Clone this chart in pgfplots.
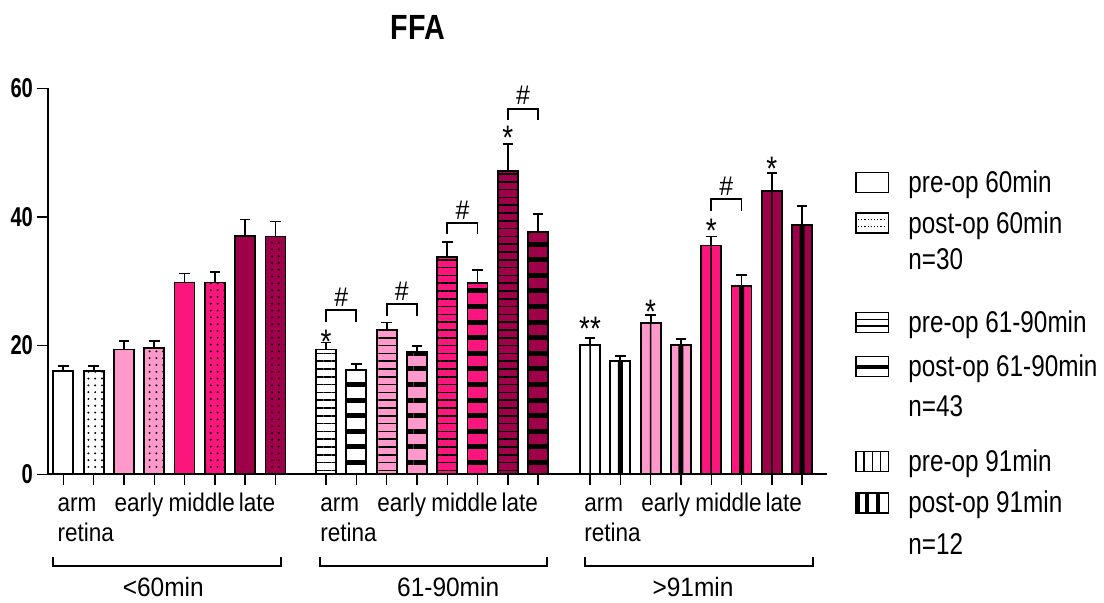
\documentclass[border=0pt]{standalone}
\usepackage{pgfplots}
\pgfplotsset{compat=1.18}
\usepackage{pgfplotstable}
\usetikzlibrary{patterns.meta}
\usepackage{fontspec}
\setmainfont{Liberation Sans}[FakeStretch=0.82]
\newfontfamily\tickfam{Liberation Sans}[FakeStretch=0.74]
\newfontfamily\xlfam{Liberation Sans}[FakeStretch=0.88]
\newfontfamily\grpfam{Liberation Sans}[FakeStretch=0.92]
\newfontfamily\lgdfam{Liberation Sans}[FakeStretch=0.81]
\definecolor{lpink}{RGB}{255,153,204}
\definecolor{hpink}{RGB}{250,22,125}
\definecolor{dmag}{RGB}{158,0,74}
\pgfplotsset{
  mybar/.style={ybar, bar width=0.66, bar shift=0pt, draw=black, line width=0.9pt},
  myerr/.style={error bars/.cd, y dir=plus, y explicit,
    error bar style={line width=0.9pt, black},
    error mark options={rotate=90, line width=0.9pt, mark size=2.65pt, black}},
}
% bars by colour (arm retina / early / middle / late), x = bar position
\pgfplotstableread{
x y e
0 16.0 0.85
1 16.1 0.70
8.67 19.4 1.10
9.67 16.2 1.00
17.38 20.1 1.10
18.38 17.6 0.80
}\armdata
\pgfplotstableread{
x y e
2 19.4 1.30
3 19.6 1.10
10.67 22.5 1.10
11.67 19.0 0.95
19.38 23.5 1.20
20.38 20.1 0.90
}\earlydata
\pgfplotstableread{
x y e
4 29.8 1.40
5 29.8 1.60
12.67 33.8 2.30
13.67 29.7 2.10
21.38 35.55 1.40
22.38 29.3 1.70
}\middledata
\pgfplotstableread{
x y e
6 37.1 2.50
7 36.95 2.35
14.67 47.2 4.10
15.67 37.7 2.70
23.38 44.06 2.74
24.38 38.7 3.00
}\latedata
% pattern overlays by group
\pgfplotstableread{
x y
1 16.1
3 19.6
5 29.8
7 36.95
}\postsixty
\pgfplotstableread{
x y
8.67 19.4
10.67 22.5
12.67 33.8
14.67 47.2
}\prenine
\pgfplotstableread{
x y
9.67 16.2
11.67 19.0
13.67 29.7
15.67 37.7
}\postnine
\pgfplotstableread{
x y
17.38 20.1
19.38 23.5
21.38 35.55
23.38 44.06
}\preninetyone
\pgfplotstableread{
x y
18.38 17.6
20.38 20.1
22.38 29.3
24.38 38.7
}\postninetyone
\newcommand\xlfont{\xlfam\fontsize{12.8}{15}\selectfont}
\newcommand\grpfont{\grpfam\fontsize{13.3}{15}\selectfont}
\newcommand\lgdfont{\lgdfam\fontsize{15}{18}\selectfont}
\newcommand\hashfont{\grpfam\fontsize{13.5}{15}\selectfont}
\newcommand\starfont{\fontsize{17}{17}\selectfont}
\begin{document}
\begin{tikzpicture}
\useasboundingbox (0,0) rectangle (552pt,301.5pt);
\begin{axis}[
  at={(23.85pt,64.35pt)}, anchor=south west,
  scale only axis, width=389.65pt, height=193pt,
  xmin=-0.515, xmax=25.2, ymin=0, ymax=60,
  axis x line*=bottom, axis y line*=left,
  axis line style={line width=1pt},
  xtick={0,1,2,3,4,5,6,7,8.67,9.67,10.67,11.67,12.67,13.67,14.67,15.67,17.38,18.38,19.38,20.38,21.38,22.38,23.38,24.38},
  xticklabels={},
  ytick={0,20,40,60},
  tick align=outside,
  major tick length=5.2pt,
  tick style={line width=0.7pt, black},
  yticklabel style={font=\tickfam\bfseries\fontsize{13.6}{14}\selectfont, inner sep=0pt, xshift=-2pt},
  /pgf/number format/assume math mode=true,
  clip=false,
]
% coloured bars with error bars
\addplot[mybar, fill=white, myerr] table[x=x, y=y, y error=e]{\armdata};
\addplot[mybar, fill=lpink, myerr] table[x=x, y=y, y error=e]{\earlydata};
\addplot[mybar, fill=hpink, myerr] table[x=x, y=y, y error=e]{\middledata};
\addplot[mybar, fill=dmag, myerr] table[x=x, y=y, y error=e]{\latedata};
% pattern overlays
\addplot[mybar, fill=none, pattern={Dots[distance=3.4pt,radius=0.55pt]}, pattern color=black] table[x=x, y=y]{\postsixty};
\addplot[mybar, fill=none, pattern={Lines[angle=0,distance=3.9pt,line width=0.75pt]}, pattern color=black] table[x=x, y=y]{\prenine};
\addplot[mybar, fill=none, pattern={Lines[angle=0,distance=7.8pt,line width=2.5pt]}, pattern color=black] table[x=x, y=y]{\postnine};
\addplot[ybar, bar shift=0pt, bar width=0.75pt, fill=black, draw=none] table[x=x, y=y]{\preninetyone};
\addplot[ybar, bar shift=0pt, bar width=2.5pt, fill=black, draw=none] table[x=x, y=y]{\postninetyone};

% significance brackets
\draw[line width=0.9pt] (axis cs:8.67,23.7) -- (axis cs:8.67,25.5) -- (axis cs:9.67,25.5) -- (axis cs:9.67,23.7);
\node[anchor=base, inner sep=0pt, font=\hashfont, yshift=2pt] at (axis cs:9.17,25.5) {\#};
\draw[line width=0.9pt] (axis cs:10.67,24.6) -- (axis cs:10.67,26.44) -- (axis cs:11.67,26.44) -- (axis cs:11.67,24.6);
\node[anchor=base, inner sep=0pt, font=\hashfont, yshift=2pt] at (axis cs:11.17,26.44) {\#};
\draw[line width=0.9pt] (axis cs:12.67,37.4) -- (axis cs:12.67,39.03) -- (axis cs:13.67,39.03) -- (axis cs:13.67,37.4);
\node[anchor=base, inner sep=0pt, font=\hashfont, yshift=2pt] at (axis cs:13.17,39.03) {\#};
\draw[line width=0.9pt] (axis cs:14.67,55.1) -- (axis cs:14.67,56.8) -- (axis cs:15.67,56.8) -- (axis cs:15.67,55.1);
\node[anchor=base, inner sep=0pt, font=\hashfont, yshift=2pt] at (axis cs:15.17,56.8) {\#};
\draw[line width=0.9pt] (axis cs:21.38,41.0) -- (axis cs:21.38,42.77) -- (axis cs:22.38,42.77) -- (axis cs:22.38,41.0);
\node[anchor=base, inner sep=0pt, font=\hashfont, yshift=2pt] at (axis cs:21.88,42.77) {\#};
% stars
\node[anchor=north, inner sep=0pt, font=\starfont] at (axis cs:8.67,22.55) {*};
\node[anchor=north, inner sep=0pt, font=\starfont] at (axis cs:14.67,54.2) {*};
\node[anchor=north, inner sep=0pt, font=\starfont] at (axis cs:17.38,24.5) {**};
\node[anchor=north, inner sep=0pt, font=\starfont] at (axis cs:19.38,27.1) {*};
\node[anchor=north, inner sep=0pt, font=\starfont] at (axis cs:21.38,39.75) {*};
\node[anchor=north, inner sep=0pt, font=\starfont] at (axis cs:23.38,49.3) {*};

% category labels group 1
\node[anchor=base west, inner sep=0pt, font=\xlfont, yshift=-18.6pt] at (axis cs:-0.2,0) {arm};
\node[anchor=base west, inner sep=0pt, font=\xlfont, yshift=-33.7pt] at (axis cs:-0.2,0) {retina};
\node[anchor=base, inner sep=0pt, font=\xlfont, yshift=-18.6pt] at (axis cs:2.5,0) {early};
\node[anchor=base, inner sep=0pt, font=\xlfont, yshift=-18.6pt] at (axis cs:4.57,0) {middle};
\node[anchor=base, inner sep=0pt, font=\xlfont, yshift=-18.6pt] at (axis cs:6.39,0) {late};
\draw[line width=0.9pt] ([yshift=-41.2pt]axis cs:-0.35,0) -- ([yshift=-45.85pt]axis cs:-0.35,0) -- ([yshift=-45.85pt]axis cs:7.18,0) -- ([yshift=-41.2pt]axis cs:7.18,0);
\node[anchor=base, inner sep=0pt, font=\grpfont, yshift=-61.2pt] at (axis cs:3.30,0) {<60min};
% group 2
\node[anchor=base west, inner sep=0pt, font=\xlfont, yshift=-18.6pt] at (axis cs:8.47,0) {arm};
\node[anchor=base west, inner sep=0pt, font=\xlfont, yshift=-33.7pt] at (axis cs:8.47,0) {retina};
\node[anchor=base, inner sep=0pt, font=\xlfont, yshift=-18.6pt] at (axis cs:11.17,0) {early};
\node[anchor=base, inner sep=0pt, font=\xlfont, yshift=-18.6pt] at (axis cs:13.24,0) {middle};
\node[anchor=base, inner sep=0pt, font=\xlfont, yshift=-18.6pt] at (axis cs:15.06,0) {late};
\draw[line width=0.9pt] ([yshift=-41.2pt]axis cs:8.47,0) -- ([yshift=-45.85pt]axis cs:8.47,0) -- ([yshift=-45.85pt]axis cs:15.97,0) -- ([yshift=-41.2pt]axis cs:15.97,0);
\node[anchor=base, inner sep=0pt, font=\grpfont, yshift=-61.2pt] at (axis cs:12.70,0) {61-90min};
% group 3
\node[anchor=base west, inner sep=0pt, font=\xlfont, yshift=-18.6pt] at (axis cs:17.18,0) {arm};
\node[anchor=base west, inner sep=0pt, font=\xlfont, yshift=-33.7pt] at (axis cs:17.18,0) {retina};
\node[anchor=base, inner sep=0pt, font=\xlfont, yshift=-18.6pt] at (axis cs:19.88,0) {early};
\node[anchor=base, inner sep=0pt, font=\xlfont, yshift=-18.6pt] at (axis cs:21.95,0) {middle};
\node[anchor=base, inner sep=0pt, font=\xlfont, yshift=-18.6pt] at (axis cs:23.77,0) {late};
\draw[line width=0.9pt] ([yshift=-41.2pt]axis cs:17.22,0) -- ([yshift=-45.85pt]axis cs:17.22,0) -- ([yshift=-45.85pt]axis cs:24.75,0) -- ([yshift=-41.2pt]axis cs:24.75,0);
\node[anchor=base, inner sep=0pt, font=\grpfont, yshift=-61.2pt] at (axis cs:20.78,0) {>91min};
\end{axis}

% title
\node[anchor=base, inner sep=0pt, font=\bfseries\fontsize{17.5}{20}\selectfont] at (209pt,281.85pt) {FFA};

% legend
\begin{scope}[line width=0.8pt]
\draw (427.9pt,205.15pt) rectangle +(16.3pt,10pt);
\draw (427.9pt,184.85pt) rectangle +(16.3pt,10pt);
\draw[line width=0.6pt, dash pattern=on 0.6pt off 1pt] (429pt,188.2pt) -- (443.2pt,188.2pt);
\draw[line width=0.6pt, dash pattern=on 0.6pt off 1pt] (429pt,191.6pt) -- (443.2pt,191.6pt);
\draw (427.9pt,135.15pt) rectangle +(16.3pt,10pt);
\draw[line width=0.6pt] (427.9pt,138.5pt) -- +(16.3pt,0);
\draw[line width=0.6pt] (427.9pt,141.8pt) -- +(16.3pt,0);
\draw (427.9pt,113.15pt) rectangle +(16.3pt,10pt);
\draw[line width=2pt] (427.9pt,118.15pt) -- +(16.3pt,0);
\draw (427.9pt,65.65pt) rectangle +(16.3pt,10pt);
\draw[line width=0.6pt] (432pt,65.65pt) -- +(0,10pt);
\draw[line width=0.6pt] (436.05pt,65.65pt) -- +(0,10pt);
\draw[line width=0.6pt] (440.1pt,65.65pt) -- +(0,10pt);
\draw (427.9pt,45pt) rectangle +(16.3pt,10pt);
\draw[line width=2pt] (428.9pt,45pt) -- +(0,10pt);
\draw[line width=2pt] (433.3pt,45pt) -- +(0,10pt);
\draw[line width=2pt] (438.8pt,45pt) -- +(0,10pt);
\end{scope}
\node[anchor=base west, inner sep=0pt, font=\lgdfont] at (454pt,205.15pt) {pre-op 60min};
\node[anchor=base west, inner sep=0pt, font=\lgdfont] at (454pt,184.85pt) {post-op 60min};
\node[anchor=base west, inner sep=0pt, font=\lgdfont] at (454pt,166.5pt) {n=30};
\node[anchor=base west, inner sep=0pt, font=\lgdfont] at (454pt,135.15pt) {pre-op 61-90min};
\node[anchor=base west, inner sep=0pt, font=\lgdfont] at (454pt,113.15pt) {post-op 61-90min};
\node[anchor=base west, inner sep=0pt, font=\lgdfont] at (454pt,93.15pt) {n=43};
\node[anchor=base west, inner sep=0pt, font=\lgdfont] at (454pt,65.65pt) {pre-op 91min};
\node[anchor=base west, inner sep=0pt, font=\lgdfont] at (454pt,45pt) {post-op 91min};
\node[anchor=base west, inner sep=0pt, font=\lgdfont] at (454pt,24pt) {n=12};
\end{tikzpicture}
\end{document}
